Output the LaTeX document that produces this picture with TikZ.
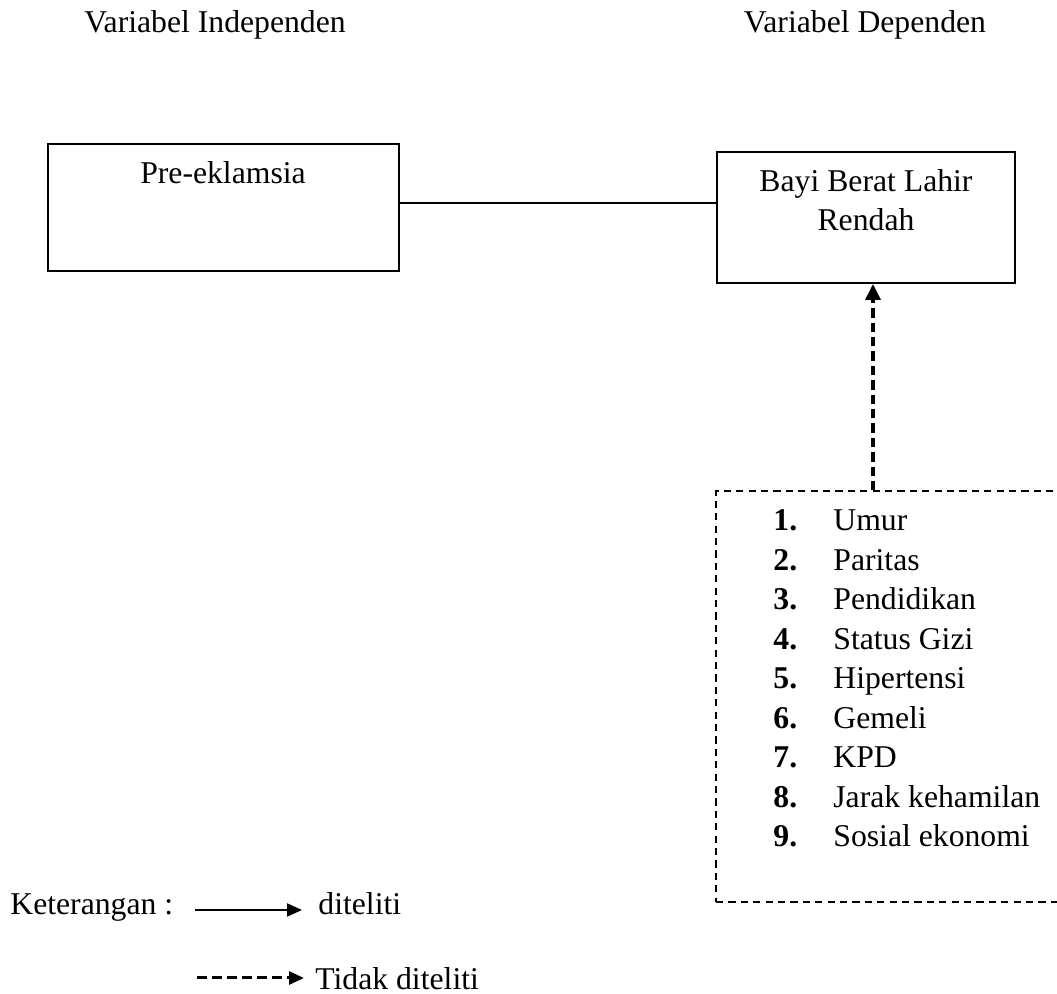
\documentclass[tikz,border=0pt]{standalone}
\usepackage{fontspec}
\setmainfont{Liberation Serif}
\usetikzlibrary{arrows.meta}
\begin{document}
\begin{tikzpicture}[x=0.5pt,y=-0.5pt,
  every node/.style={inner sep=0pt, font=\fontsize{15.85}{19}\selectfont},
  txt/.style={anchor=base},
  txtw/.style={anchor=base west},
  mainbox/.style={draw, line width=1pt, rectangle},
  factorbox/.style={draw, line width=0.6pt, dash pattern=on 3.6pt off 2.6pt, rectangle},
  link/.style={line width=0.8pt},
  dasharrow/.style={line width=1.8pt, dash pattern=on 4.7pt off 2.5pt, -{Triangle[length=8pt,width=7.5pt]}},
  legsolid/.style={line width=1pt, -{Triangle[length=7.5pt,width=6.5pt]}, shorten >=8pt},
  legdash/.style={line width=1.5pt, dash pattern=on 5pt off 2.5pt, -{Triangle[length=7.5pt,width=6.5pt]}, shorten >=5.5pt},
  num/.style={anchor=base west, font=\fontsize{15.85}{19}\selectfont\bfseries}
]
\clip (0,0) rectangle (1057,994);
\useasboundingbox (0,0) rectangle (1057,994);

% headings
\node[txt] (hind) at (215,33) {Variabel Independen};
\node[txt] (hdep) at (865,33) {Variabel Dependen};

% boxes
\node[mainbox, minimum width=175.5pt, minimum height=63.5pt] (pre) at (223.5,207.5) {};
\node[txt] (pretxt) at (223,184) {Pre-eklamsia};
\node[mainbox, minimum width=149pt, minimum height=65.5pt] (bblr) at (866,217.5) {};
\node[txt] (bblr1) at (866,192) {Bayi Berat Lahir};
\node[txt] (bblr2) at (866,231) {Rendah};

% connector
\coordinate (lineY) at (0,203);
\draw[link] (pre.east |- lineY) -- (bblr.west |- lineY);

% factor box
\node[factorbox, minimum width=180pt, minimum height=205.5pt] (factors) at (896,696.5) {};
\coordinate (ax) at (873,0);
\draw[dasharrow] (factors.north -| ax) -- (bblr.south -| ax);

% list
\foreach \i/\t in {1/Umur,2/Paritas,3/Pendidikan,4/Status Gizi,5/Hipertensi,6/Gemeli,7/KPD,8/Jarak kehamilan,9/Sosial ekonomi}{
  \node[num] (n\i) at (773,{531+39.5*(\i-1)}) {\i.};
  \node[txtw] (t\i) at (833,{531+39.5*(\i-1)}) {\t};
}

% legend
\node[txtw] (ket) at (10,915) {Keterangan :};
\coordinate (s1) at (195,910);
\node[txtw] (dit) at (318,915) {diteliti};
\draw[legsolid] (s1) -- (dit.west |- s1);
\coordinate (s2) at (197,978);
\node[txtw] (tdit) at (315,990) {Tidak diteliti};
\draw[legdash] (s2) -- (tdit.west |- s2);
\end{tikzpicture}
\end{document}
